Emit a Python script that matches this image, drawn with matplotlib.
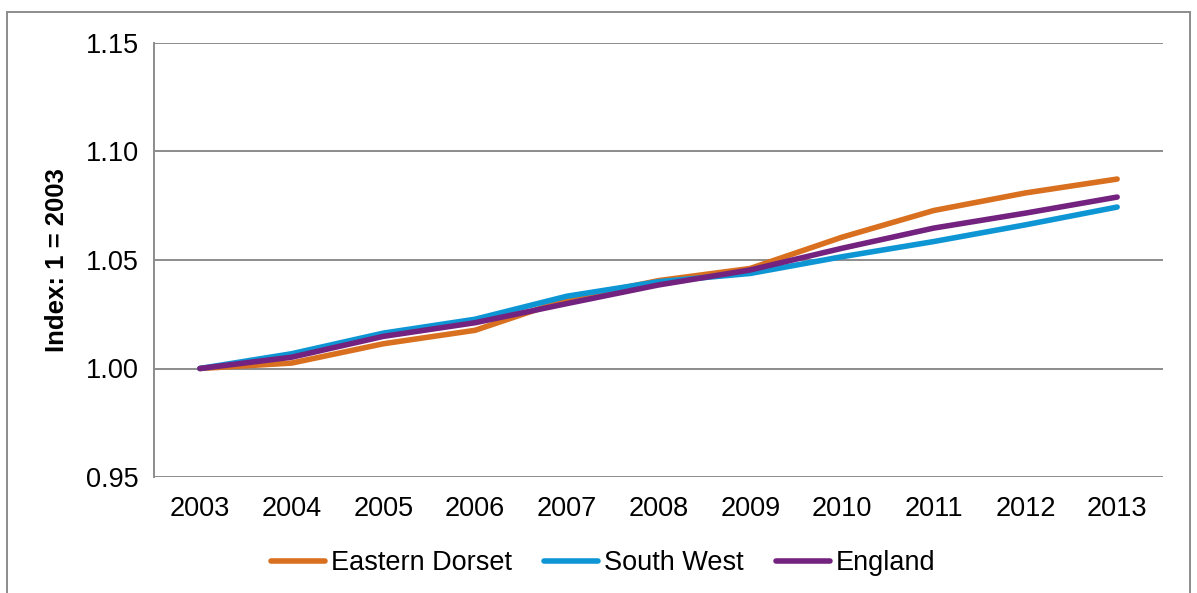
import matplotlib
matplotlib.use("Agg")
import matplotlib.pyplot as plt
from matplotlib.patches import Rectangle

plt.rcParams['font.family'] = ['Liberation Sans', 'DejaVu Sans']

years = ["2003", "2004", "2005", "2006", "2007", "2008", "2009", "2010", "2011", "2012", "2013"]
eastern_dorset = [1.000, 1.0025, 1.0114, 1.0176, 1.0318, 1.0405, 1.0461, 1.0605, 1.0728, 1.0809, 1.0873]
south_west = [1.000, 1.0068, 1.0163, 1.0227, 1.0333, 1.0400, 1.0438, 1.0515, 1.0585, 1.0662, 1.0744]
england = [1.000, 1.0052, 1.0148, 1.0211, 1.0299, 1.0385, 1.0454, 1.0554, 1.0647, 1.0716, 1.0790]
series_names = ["Eastern Dorset", "South West", "England"]
colors = ["#D8701F", "#0E96D4", "#73237F"]
yticks = [0.95, 1.00, 1.05, 1.10, 1.15]

FS = 19.5
W, H = 1197, 593
fig = plt.figure(figsize=(W / 100, H / 100), dpi=100)
ax = fig.add_axes([154 / W, 1 - 477 / H, (1163 - 154) / W, (477 - 43) / H])

x = list(range(len(years)))
for vals, name, c in zip([eastern_dorset, south_west, england], series_names, colors):
    ax.plot(x, vals, color=c, lw=4.0, solid_capstyle='round', solid_joinstyle='round', label=name)

ax.set_xlim(-0.5, len(years) - 0.5)
ax.set_ylim(0.95, 1.15)
ax.set_yticks(yticks)
ax.set_yticklabels([f"{v:.2f}" for v in yticks])
ax.set_xticks(x)
ax.set_xticklabels(years)
ax.grid(axis='y', color='#8C8C8C', lw=1.4)
ax.set_axisbelow(True)
for s in ['top', 'right', 'bottom']:
    ax.spines[s].set_visible(False)
ax.spines['left'].set_color('#8C8C8C')
ax.spines['left'].set_linewidth(1.4)
ax.tick_params(axis='both', length=0, labelsize=FS, colors='black')
ax.tick_params(axis='x', pad=14)
ax.tick_params(axis='y', pad=11)
ax.set_ylabel("Index: 1 = 2003", fontsize=FS * 0.95, fontweight='bold', labelpad=12)

leg = fig.legend(loc='center', bbox_to_anchor=(603 / W, 1 - 563 / H), ncol=3, frameon=False,
                 fontsize=FS, handlelength=2.0, handletextpad=0.2, columnspacing=1.2)

fig.add_artist(Rectangle((7 / W, -0.05), (1190 - 7) / W, 1 - 12 / H + 0.05, transform=fig.transFigure,
                         fill=False, edgecolor='#8C8C8C', lw=1.4))

fig.savefig("out.png", dpi=100)
